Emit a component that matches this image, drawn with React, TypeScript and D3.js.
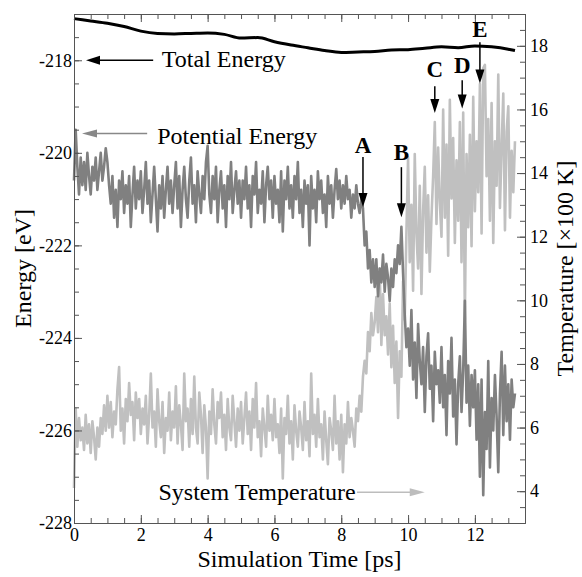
import React, { useEffect, useRef } from 'react';
import * as d3 from 'd3';

// sampling step of the two noisy traces [ps]
const timeStep = 0.05;

// system temperature [x100 K], one value every 0.05 ps
const temperature = [
  4.1, 6.6, 5.4, 6.3, 5.6, 6.0, 5.3, 6.4, 5.5, 6.1, 5.2, 6.2, 5.7, 5.0, 6.0, 5.4, 6.3, 5.8, 6.7, 5.9,
  7.0, 6.0, 6.8, 5.7, 6.5, 6.1, 7.2, 7.9, 5.9, 6.6, 5.5, 6.9, 6.2, 7.4, 6.4, 6.8, 5.6, 7.1, 6.3, 6.9,
  5.8, 6.6, 6.1, 7.0, 5.5, 6.4, 7.7, 6.0, 6.5, 5.4, 7.2, 6.2, 5.7, 6.8, 5.2, 6.3, 5.9, 7.1, 5.6, 6.5,
  6.0, 7.3, 5.5, 6.7, 6.1, 5.3, 7.7, 6.2, 6.6, 5.4, 6.9, 5.8, 7.6, 6.0, 5.5, 7.1, 6.4, 5.2, 6.7, 6.0,
  4.4, 6.5, 5.8, 7.2, 6.1, 5.5, 6.8, 6.3, 7.1, 5.7, 6.4, 5.3, 6.9, 6.0, 5.6, 7.0, 6.2, 5.4, 6.6, 5.9,
  6.8, 5.5, 6.3, 7.1, 5.8, 6.5, 5.3, 6.9, 6.0, 7.4, 5.7, 6.2, 5.1, 6.6, 6.0, 5.4, 7.0, 5.9, 6.4, 5.6,
  6.9, 5.7, 6.1, 5.2, 6.6, 4.4, 6.3, 5.8, 7.0, 5.5, 6.2, 5.0, 6.7, 5.9, 5.4, 6.5, 6.0, 5.3, 6.8, 5.6,
  6.2, 5.1, 7.7, 5.8, 6.4, 5.4, 6.9, 5.7, 6.1, 5.0, 6.5, 5.6, 4.85, 6.3, 5.9, 5.3, 7.0, 5.5, 6.2, 5.0,
  6.4, 4.6, 6.1, 5.5, 6.8, 5.7, 6.3, 5.9, 5.4, 6.6, 6.2, 7.0, 6.5, 7.6, 8.1, 7.7, 9.0, 8.4, 9.6, 8.9,
  9.3, 10.1, 9.0, 11.0, 8.6, 10.2, 8.9, 9.5, 8.3, 9.9, 7.9, 9.2, 7.4, 8.7, 6.3, 8.4, 7.6, 10.6, 9.4, 12.1,
  14.5, 11.2, 13.0, 10.3, 14.6, 12.1, 11.0, 13.6, 10.2, 12.8, 14.2, 11.5, 13.3, 10.9, 12.6, 13.9, 15.6, 12.4, 14.8, 13.1,
  12.0, 16.0, 12.6, 14.9, 11.4, 16.3, 13.2, 15.1, 11.8, 14.4, 12.5, 15.6, 11.2, 15.9, 9.4, 14.6, 12.3, 15.2, 11.7, 16.4,
  12.8, 15.0, 13.4, 16.8, 12.1, 17.3, 17.4, 13.9, 15.7, 12.5, 16.2, 11.8, 15.0, 13.6, 17.1, 12.9, 14.8, 16.5, 12.2, 15.3,
  16.1, 12.6, 14.7, 13.4, 15.0,
];

// potential energy [eV], one value every 0.05 ps
const potentialEnergy = [
  -220.6, -219.5, -220.3, -220.9, -220.1, -220.7, -220.2, -220.8, -220.0, -220.5, -220.9, -220.3, -220.6, -220.1, -220.8, -220.4, -220.0, -220.6, -220.3, -219.9,
  -220.2, -220.7, -221.1, -220.5, -221.4, -220.8, -221.6, -220.6, -221.0, -220.4, -221.3, -220.7, -221.1, -220.5, -221.6, -220.9, -220.3, -221.2, -220.6, -221.0,
  -220.4, -221.3, -220.8, -220.2, -221.1, -220.6, -221.5, -220.9, -220.3, -221.0, -221.7, -220.7, -221.2, -220.5, -221.4, -220.8, -220.3, -221.1, -220.6, -221.3,
  -220.7, -220.2, -221.2, -220.5, -221.6, -220.8, -220.3, -221.0, -221.4, -220.6, -220.1, -221.1, -220.7, -221.5, -220.4, -220.9, -221.3, -220.5, -221.0, -220.2,
  -219.85, -220.9, -221.3, -220.5, -221.0, -220.3, -221.5, -220.8, -220.4, -221.2, -220.7, -221.6, -220.5, -221.0, -220.2, -221.3, -220.8, -220.4, -221.1, -220.6,
  -221.4, -220.6, -221.0, -220.3, -221.2, -220.7, -221.6, -220.5, -220.9, -220.2, -221.3, -220.8, -221.1, -220.4, -221.5, -220.7, -220.3, -221.0, -220.6, -221.4,
  -220.5, -221.1, -220.8, -221.5, -220.4, -221.7, -220.6, -221.0, -220.3, -221.2, -220.7, -221.4, -220.5, -221.0, -220.2, -221.3, -220.8, -221.6, -220.6, -221.1,
  -220.7, -222.0, -220.5, -221.2, -220.8, -221.5, -220.4, -221.0, -220.6, -221.3, -220.9, -221.6, -220.5, -221.1, -220.7, -221.4, -220.8, -220.35, -221.0, -220.6,
  -221.2, -220.7, -221.1, -220.5, -221.0, -220.8, -221.4, -220.9, -221.2, -220.7, -221.1, -221.3, -221.0, -221.2, -222.0, -221.7, -222.5, -222.1, -222.8, -222.3,
  -222.9, -222.3, -223.1, -222.5, -222.8, -222.2, -223.0, -222.4, -222.7, -223.2, -222.5, -222.9, -222.3, -222.6, -222.0, -222.4, -221.6, -222.6, -223.5, -224.2,
  -223.8, -224.6, -223.4, -224.9, -224.1, -225.3, -223.7, -224.5, -225.0, -224.2, -225.6, -224.4, -223.9, -225.1, -224.6, -225.8, -224.3, -225.0, -224.7, -225.4,
  -224.2, -225.5, -224.8, -226.1, -224.5, -225.2, -224.0, -225.7, -224.9, -226.3, -225.0, -224.4, -225.6, -224.7, -223.2, -225.4, -224.6, -225.9, -224.8, -225.5,
  -224.7, -226.2, -225.0, -227.0, -224.9, -227.4, -225.6, -226.4, -224.5, -226.8, -225.3, -226.0, -224.8, -225.7, -226.9, -225.2, -224.3, -226.1, -224.6, -225.8,
  -225.0, -226.2, -224.9, -225.5, -225.2,
];

// total energy [eV], coarser sampling
const totalTime = [0, 0.5, 1, 1.5, 2, 2.5, 3, 3.5, 4, 4.5, 5, 5.5, 6, 6.5, 7, 7.5, 8, 8.5, 9, 9.5, 10, 10.5, 11, 11.5, 12, 12.5, 13, 13.2];
const totalEnergy = [
  -217.10, -217.15, -217.20, -217.27, -217.37, -217.42, -217.43, -217.42, -217.41, -217.44, -217.52, -217.51, -217.60, -217.67,
  -217.73, -217.79, -217.83, -217.82, -217.81, -217.78, -217.77, -217.74, -217.71, -217.73, -217.69, -217.71, -217.76, -217.79,
];

// event markers A-E: time, label baseline, arrow start, arrow tip (eV)
const eventLabels = ['A', 'B', 'C', 'D', 'E'];
const eventTimes = [8.65, 9.8, 10.8, 11.62, 12.15];
const eventTextY = [-220.0, -220.16, -218.37, -218.28, -217.5];
const eventFrom = [-220.09, -220.31, -218.56, -218.43, -217.61];
const eventTo = [-221.17, -221.39, -219.14, -219.04, -218.5];

const W = 582;
const H = 577;
const FONT = '"Liberation Serif", "Times New Roman", serif';

const App = () => {
  const svgRef = useRef(null);

  useEffect(() => {
    const margin = { top: 14, right: 57, bottom: 54, left: 74 };
    const width = W - margin.left - margin.right;
    const height = H - margin.top - margin.bottom;

    const svgEl = d3.select(svgRef.current);
    svgEl.selectAll('*').remove();

    svgEl.append('rect').attr('width', W).attr('height', H).attr('fill', '#fff');

    const svg = svgEl
      .append('g')
      .attr('transform', `translate(${margin.left},${margin.top})`);

    const x = d3.scaleLinear().domain([0, 13.5]).range([0, width]);
    const yE = d3.scaleLinear().domain([-228, -217]).range([height, 0]);
    const yT = d3.scaleLinear().domain([3, 19]).range([height, 0]);

    // series
    const tempLine = d3.line<number>()
      .x((d, i) => x(i * timeStep))
      .y(d => yT(d));
    const peLine = d3.line<number>()
      .x((d, i) => x(i * timeStep))
      .y(d => yE(d));
    const totLine = d3.line<number>()
      .x((d, i) => x(totalTime[i]))
      .y(d => yE(d))
      .curve(d3.curveMonotoneX);

    svg.append('path')
      .datum(temperature)
      .attr('fill', 'none')
      .attr('stroke', '#c0c0c0')
      .attr('stroke-width', 2.6)
      .attr('stroke-linejoin', 'round')
      .attr('d', tempLine);

    svg.append('path')
      .datum(potentialEnergy)
      .attr('fill', 'none')
      .attr('stroke', '#808080')
      .attr('stroke-width', 2.6)
      .attr('stroke-linejoin', 'round')
      .attr('d', peLine);

    svg.append('path')
      .datum(totalEnergy)
      .attr('fill', 'none')
      .attr('stroke', '#000')
      .attr('stroke-width', 3)
      .attr('d', totLine);

    // axes: major every 2, minor every 0.5, ticks pointing inward
    const majorX = d3.range(0, 13.5, 2);
    const minorX = d3.range(0, 13.51, 0.5);
    const majorE = d3.range(-228, -216.9, 2);
    const minorE = d3.range(-228, -216.9, 0.5);
    const majorT = d3.range(4, 19.1, 2);
    const minorT = d3.range(3, 19.1, 0.5);
    const plain = d => String(d);

    const styleAxis = g => {
      g.selectAll('path.domain, .tick line').attr('stroke', '#555').attr('stroke-width', 1);
      g.selectAll('text')
        .attr('fill', '#000')
        .style('font-family', FONT)
        .style('font-size', '18px');
    };

    const addAxis = (axis, transform) => {
      svg.append('g').attr('transform', transform).call(axis).call(styleAxis);
    };

    addAxis(d3.axisBottom(x).tickValues(minorX).tickSize(-5).tickSizeOuter(0).tickFormat(() => ''), `translate(0,${height})`);
    addAxis(d3.axisBottom(x).tickValues(majorX).tickSize(-8).tickSizeOuter(0).tickPadding(5).tickFormat(plain), `translate(0,${height})`);
    addAxis(d3.axisTop(x).tickValues(minorX).tickSize(-5).tickSizeOuter(0).tickFormat(() => ''), 'translate(0,0)');
    addAxis(d3.axisTop(x).tickValues(majorX).tickSize(-8).tickSizeOuter(0).tickFormat(() => ''), 'translate(0,0)');

    addAxis(d3.axisLeft(yE).tickValues(minorE).tickSize(-5).tickSizeOuter(0).tickFormat(() => ''), 'translate(0,0)');
    addAxis(d3.axisLeft(yE).tickValues(majorE).tickSize(-8).tickSizeOuter(0).tickPadding(2).tickFormat(plain), 'translate(0,0)');
    addAxis(d3.axisRight(yT).tickValues(minorT).tickSize(-5).tickSizeOuter(0).tickFormat(() => ''), `translate(${width},0)`);
    addAxis(d3.axisRight(yT).tickValues(majorT).tickSize(-8).tickSizeOuter(0).tickPadding(5).tickFormat(plain), `translate(${width},0)`);

    // axis titles
    svgEl.append('text')
      .attr('x', margin.left + width / 2)
      .attr('y', H - 10)
      .attr('text-anchor', 'middle')
      .style('font-family', FONT)
      .style('font-size', '24px')
      .text('Simulation Time [ps]');

    svgEl.append('text')
      .attr('transform', `translate(31,${margin.top + height / 2}) rotate(-90)`)
      .attr('text-anchor', 'middle')
      .style('font-family', FONT)
      .style('font-size', '24px')
      .text('Energy [eV]');

    svgEl.append('text')
      .attr('transform', `translate(573,${margin.top + height / 2}) rotate(-90)`)
      .attr('text-anchor', 'middle')
      .style('font-family', FONT)
      .style('font-size', '24px')
      .text('Temperature [×100 K]');

    // horizontal arrows with labels
    const hArrow = (t0, t1, yPix, color, headLen, headW) => {
      const x0 = x(t0);
      const x1 = x(t1);
      const dir = Math.sign(x1 - x0);
      svg.append('line')
        .attr('x1', x0).attr('x2', x1 - dir * headLen * 0.8)
        .attr('y1', yPix).attr('y2', yPix)
        .attr('stroke', color).attr('stroke-width', 1.5);
      svg.append('path')
        .attr('d', `M${x1},${yPix}L${x1 - dir * headLen},${yPix - headW / 2}L${x1 - dir * headLen},${yPix + headW / 2}Z`)
        .attr('fill', color);
    };

    const label = (txt, xPix, yPix, anchor) => {
      svg.append('text')
        .attr('x', xPix).attr('y', yPix)
        .attr('text-anchor', anchor)
        .style('font-family', FONT)
        .style('font-size', '24px')
        .text(txt);
    };

    hArrow(2.37, 0.36, yE(-218), '#000', 14, 9);
    label('Total Energy', x(2.63), yE(-218.15), 'start');

    hArrow(2.19, 0.24, yE(-219.58), '#888', 15, 8);
    label('Potential Energy', x(2.49), yE(-219.8), 'start');

    hArrow(8.47, 10.5, yT(3.97), '#bdbdbd', 15, 8);
    label('System Temperature', x(8.43), yT(3.72), 'end');

    // event markers
    eventLabels.forEach((lab, i) => {
      const xp = x(eventTimes[i]);
      const y0 = yE(eventFrom[i]);
      const y1 = yE(eventTo[i]);
      svg.append('line')
        .attr('x1', xp).attr('x2', xp)
        .attr('y1', y0).attr('y2', y1 - 10)
        .attr('stroke', '#000').attr('stroke-width', 1.5);
      svg.append('path')
        .attr('d', `M${xp},${y1}L${xp - 4.5},${y1 - 14}L${xp + 4.5},${y1 - 14}Z`)
        .attr('fill', '#000');
      svg.append('text')
        .attr('x', xp).attr('y', yE(eventTextY[i]))
        .attr('text-anchor', 'middle')
        .style('font-family', FONT)
        .style('font-size', '23px')
        .style('font-weight', 'bold')
        .text(lab);
    });
  }, []);

  return (
    <svg
      ref={svgRef}
      width={W}
      height={H}
      style={{ position: 'absolute', left: 0, top: 0, display: 'block' }}
    ></svg>
  );
};

export default App;
